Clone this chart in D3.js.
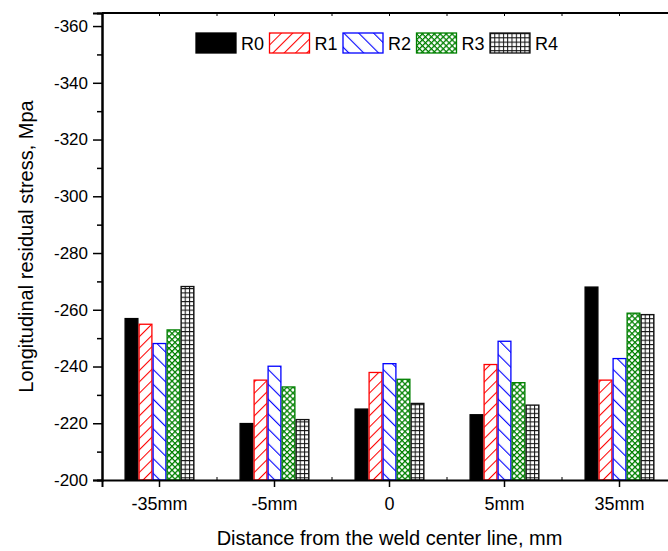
<!DOCTYPE html>
<html>
<head>
<meta charset="utf-8">
<script src="https://cdn.jsdelivr.net/npm/d3@7/dist/d3.min.js"></script>
<style>
  body { margin: 0; background: #fff; }
  svg { font-family: Arial, "Liberation Sans", sans-serif; }
</style>
</head>
<body>
<svg id="chart" width="668" height="551"></svg>
<script>
// chart data
const categories = ["-35mm", "-5mm", "0", "5mm", "35mm"];
const seriesNames = ["R0", "R1", "R2", "R3", "R4"];
const R0 = [-256.9, -219.9, -225.0, -223.0, -268.0];
const R1 = [-254.9, -235.2, -237.9, -240.7, -235.2];
const R2 = [-248.1, -240.1, -241.0, -248.9, -242.8];
const R3 = [-252.9, -232.8, -235.5, -234.3, -258.8];
const R4 = [-268.2, -221.3, -227.0, -226.4, -258.3];
const yTicks = [-200, -220, -240, -260, -280, -300, -320, -340, -360];

const seriesValues = [R0, R1, R2, R3, R4];

const margin = { left: 102, top: 13, bottom: 480 };
const plotRight = 677; // right edge runs past the window

const svg = d3.select("#chart");

const x0 = d3.scaleBand()
    .domain(categories)
    .range([margin.left, plotRight])
    .padding(0);

const groupWidth = 70;
const x1 = d3.scaleBand()
    .domain(seriesNames)
    .range([0, groupWidth])
    .padding(0);

const y = d3.scaleLinear()
    .domain([-200, -364.6])
    .range([margin.bottom, margin.top]);

// fill patterns, one per series
const defs = svg.append("defs");

function linePattern(id, color, spacing, angle, width) {
    const p = defs.append("pattern")
        .attr("id", id)
        .attr("patternUnits", "userSpaceOnUse")
        .attr("width", spacing)
        .attr("height", spacing)
        .attr("patternTransform", `rotate(${angle})`);
    p.append("rect").attr("width", spacing).attr("height", spacing).attr("fill", "#fff");
    p.append("line")
        .attr("x1", 0.5).attr("y1", 0).attr("x2", 0.5).attr("y2", spacing)
        .attr("stroke", color).attr("stroke-width", width);
    return p;
}

linePattern("pat-r1", "#ff0000", 8, 45, 1.1);
linePattern("pat-r2", "#0000ff", 10.5, -45, 1.2);

// green crosshatch
const p3 = defs.append("pattern")
    .attr("id", "pat-r3")
    .attr("patternUnits", "userSpaceOnUse")
    .attr("width", 4.2).attr("height", 4.2)
    .attr("patternTransform", "rotate(45)");
p3.append("rect").attr("width", 4.2).attr("height", 4.2).attr("fill", "#fff");
p3.append("path").attr("d", "M0.6,0V4.2M0,0.6H4.2")
    .attr("stroke", "#008000").attr("stroke-width", 1.4).attr("fill", "none");

// black grid
const p4 = defs.append("pattern")
    .attr("id", "pat-r4")
    .attr("patternUnits", "userSpaceOnUse")
    .attr("width", 4.3).attr("height", 4.3);
p4.append("rect").attr("width", 4.3).attr("height", 4.3).attr("fill", "#fff");
p4.append("path").attr("d", "M0.5,0V4.3M0,0.5H4.3")
    .attr("stroke", "#111").attr("stroke-width", 1).attr("fill", "none");

const fills = { R0: "#000", R1: "url(#pat-r1)", R2: "url(#pat-r2)", R3: "url(#pat-r3)", R4: "url(#pat-r4)" };
const strokes = { R0: "#000", R1: "#ff0000", R2: "#0000ff", R3: "#008000", R4: "#111" };

// bars
const rows = categories.map((c, i) => ({
    cat: c,
    vals: seriesNames.map((s, j) => ({ key: s, value: seriesValues[j][i] }))
}));

const groups = svg.append("g").selectAll("g")
    .data(rows)
    .enter().append("g")
    .attr("transform", d => `translate(${x0(d.cat) + x0.bandwidth() / 2 - groupWidth / 2},0)`);

groups.selectAll("rect")
    .data(d => d.vals)
    .enter().append("rect")
    .attr("x", d => x1(d.key) + 0.6)
    .attr("width", x1.bandwidth() - 1.2)
    .attr("y", d => y(d.value))
    .attr("height", d => y(-200) - y(d.value))
    .attr("fill", d => fills[d.key])
    .attr("stroke", d => strokes[d.key])
    .attr("stroke-width", 1.3);

// axes
const yAxis = d3.axisLeft(y)
    .tickValues(yTicks)
    .tickSize(9)
    .tickPadding(5)
    .tickFormat(d => String(d));
const yMinor = d3.axisLeft(y)
    .tickValues(d3.range(-210, -361, -20))
    .tickSize(5)
    .tickFormat("");

const gy = svg.append("g").attr("transform", `translate(${margin.left},0)`).call(yAxis);
svg.append("g").attr("transform", `translate(${margin.left},0)`).call(yMinor);

const xAxis = d3.axisBottom(x0).tickSize(7).tickPadding(10);
const gx = svg.append("g").attr("transform", `translate(0,${margin.bottom})`).call(xAxis);

// minor ticks at category boundaries, pointing inward
const boundaries = categories.slice(1).map(c => x0(c));
svg.append("g").selectAll("line")
    .data(boundaries)
    .enter().append("line")
    .attr("x1", d => d).attr("x2", d => d)
    .attr("y1", margin.bottom).attr("y2", margin.bottom - 3)
    .attr("stroke", "#000").attr("stroke-width", 1);

// top axis with small inward ticks
const topTicks = categories.map(c => x0(c) + x0.bandwidth() / 2).concat(boundaries);
svg.append("line")
    .attr("x1", margin.left).attr("x2", plotRight)
    .attr("y1", margin.top).attr("y2", margin.top)
    .attr("stroke", "#000").attr("stroke-width", 2);
svg.append("g").selectAll("line")
    .data(topTicks)
    .enter().append("line")
    .attr("x1", d => d).attr("x2", d => d)
    .attr("y1", margin.top).attr("y2", margin.top + 3)
    .attr("stroke", "#000").attr("stroke-width", 1);

svg.selectAll(".domain").attr("stroke", "#000").attr("stroke-width", 2);
svg.selectAll(".tick line").attr("stroke", "#000").attr("stroke-width", 1.5);
gy.selectAll(".tick text").attr("font-size", 17).attr("fill", "#000");
gx.selectAll(".tick text").attr("font-size", 18).attr("fill", "#000");

// axis titles
svg.append("text")
    .attr("x", (margin.left + plotRight) / 2)
    .attr("y", 545)
    .attr("text-anchor", "middle")
    .attr("font-size", 20)
    .text("Distance from the weld center line, mm");

svg.append("text")
    .attr("transform", `translate(33,${(margin.top + margin.bottom) / 2}) rotate(-90)`)
    .attr("text-anchor", "middle")
    .attr("font-size", 20)
    .text("Longitudinal residual stress, Mpa");

// legend
const legend = svg.append("g").selectAll("g")
    .data(seriesNames)
    .enter().append("g")
    .attr("transform", (d, i) => `translate(${196 + i * 73.5},33)`);
legend.append("rect")
    .attr("width", 40).attr("height", 20)
    .attr("fill", d => fills[d])
    .attr("stroke", d => strokes[d])
    .attr("stroke-width", 1.3);
legend.append("text")
    .attr("x", 45).attr("y", 17)
    .attr("font-size", 18)
    .text(d => d);
</script>
</body>
</html>
